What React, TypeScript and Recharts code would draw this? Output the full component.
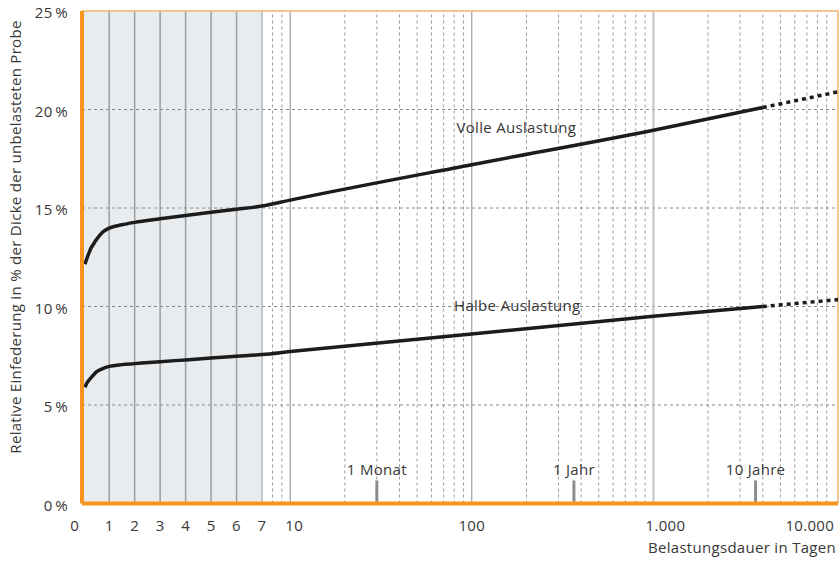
import React from 'react';
import { ComposedChart, Line, XAxis, YAxis, ReferenceArea, ReferenceLine, ReferenceDot } from 'recharts';

// Belastungsdauer (Tage) und relative Einfederung (%)
const solidDays = [0.05, 0.1, 0.2, 0.3, 0.4, 0.5, 0.75, 1, 1.5, 2, 3, 4, 5, 6, 7, 10, 100, 1000, 4000];
const volleSolid = [12.15, 12.35, 12.7, 13.0, 13.2, 13.4, 13.78, 13.98, 14.15, 14.27, 14.45, 14.62, 14.78, 14.94, 15.1, 15.4, 17.2, 18.95, 20.1];
const halbeSolid = [5.9, 6.05, 6.25, 6.4, 6.55, 6.68, 6.85, 6.96, 7.05, 7.1, 7.2, 7.29, 7.38, 7.47, 7.56, 7.71, 8.6, 9.5, 10.0];
const dashedDays = [4000, 10400];
const volleDashed = [20.1, 20.9];
const halbeDashed = [10.0, 10.35];

const tickDays = [0, 1, 2, 3, 4, 5, 6, 7, 10, 100, 1000, 10000];
const tickLabels = ['0', '1', '2', '3', '4', '5', '6', '7', '10', '100', '1.000', '10.000'];
const majorGridDays = [1, 2, 3, 4, 5, 6, 10, 100];
const minorGridDays = [8, 9, 20, 30, 40, 50, 60, 70, 80, 90, 200, 300, 400, 500, 600, 700, 800, 900, 2000, 3000, 4000, 5000, 6000, 7000, 8000, 9000];
const yTicks = [0, 5, 10, 15, 20, 25];
const yGrid = [5, 10, 15, 20];
const markers = [
  { label: '1 Monat', days: 30 },
  { label: '1 Jahr', days: 365 },
  { label: '10 Jahre', days: 3650 },
];

// linear up to 7 days, logarithmic after that
const K = 7.13;
const toT = (d: number) => (d <= 7 ? d : 7 + K * Math.log10(d / 7));
const T_MIN = -0.067;
const T_MAX = 29.61;

const ORANGE = '#f7941d';
const TEXT = '#383838';

const volleData = solidDays.map((d, i) => ({ t: toT(d), v: volleSolid[i] }));
const halbeData = solidDays.map((d, i) => ({ t: toT(d), v: halbeSolid[i] }));
const volleDash = dashedDays.map((d, i) => ({ t: toT(d), v: volleDashed[i] }));
const halbeDash = dashedDays.map((d, i) => ({ t: toT(d), v: halbeDashed[i] }));
const tickT = tickDays.map(toT);

const XTick = (props: any) => {
  const { x, payload } = props;
  const i = tickT.findIndex((v) => Math.abs(v - payload.value) < 1e-6);
  if (i < 0) return null;
  const day = tickDays[i];
  let anchor = 'middle';
  let dx = 0;
  if (day === 0) dx = -9;
  if (day === 10) dx = 4;
  if (day === 1000) dx = 12;
  if (day === 10000) {
    anchor = 'end';
    dx = -1;
  }
  return (
    <text x={x + dx} y={531} textAnchor={anchor} fill={TEXT} fontSize={15}>
      {tickLabels[i]}
    </text>
  );
};

const YTick = (props: any) => {
  const { y, payload } = props;
  return (
    <text x={68} y={y + 2} dy="0.355em" textAnchor="end" fill={TEXT} fontSize={15}>
      {`${payload.value}\u2009%`}
    </text>
  );
};

const YTitle = () => {
  const cx = 15;
  const cy = 237;
  return (
    <text x={cx} y={cy} transform={`rotate(-90, ${cx}, ${cy})`} textAnchor="middle" dominantBaseline="central" fill={TEXT} fontSize={15}>
      Relative Einfederung in % der Dicke der unbelasteten Probe
    </text>
  );
};

export default function App() {
  return (
    <div style={{ position: 'absolute', left: 0, top: 0, width: 839, height: 561, background: '#fff', fontFamily: "'Open Sans', sans-serif", letterSpacing: 0.3 }}>
      <ComposedChart width={839} height={561} margin={{ top: 11, right: 1, bottom: 6, left: 0 }}>
        <ReferenceArea x1={0} x2={7} fill="#e8ecef" fillOpacity={1} stroke="none" ifOverflow="visible" />
        {yGrid.map((v) => (
          <ReferenceLine key={`h-${v}`} y={v} stroke="#8a8a8a" strokeDasharray="3 3" ifOverflow="visible" />
        ))}
        {majorGridDays.map((d) => (
          <ReferenceLine key={`maj-${d}`} x={toT(d)} stroke={d <= 6 ? '#9c9fa2' : '#8a8a8a'} strokeWidth={d <= 6 ? 1.5 : 1} ifOverflow="visible" />
        ))}
        <ReferenceLine x={7} stroke="#b4b7ba" strokeWidth={1.5} ifOverflow="visible" />
        <ReferenceLine x={toT(1000)} stroke="#c2c2c2" strokeWidth={2} ifOverflow="visible" />
        {minorGridDays.map((d) => (
          <ReferenceLine key={`min-${d}`} x={toT(d)} stroke="#9a9a9a" strokeDasharray="3 3" ifOverflow="visible" />
        ))}
        {markers.map((m) => (
          <ReferenceLine
            key={m.label}
            segment={[{ x: toT(m.days), y: 0 }, { x: toT(m.days), y: 1.17 }]}
            stroke="#8c8c8c"
            strokeWidth={3}
            ifOverflow="visible"
            label={{ value: m.label, position: 'top', fill: TEXT, fontSize: 15, offset: 5 }}
          />
        ))}
        <ReferenceLine y={25} stroke="#f3b46e" strokeWidth={1.5} ifOverflow="visible" />
        <ReferenceLine x={T_MAX} stroke="#f3b46e" strokeWidth={1.5} ifOverflow="visible" />
        <Line data={volleData} dataKey="v" type="monotone" stroke="#1c1c1c" strokeWidth={3.5} dot={false} isAnimationActive={false} />
        <Line data={halbeData} dataKey="v" type="monotone" stroke="#1c1c1c" strokeWidth={3.5} dot={false} isAnimationActive={false} />
        <Line data={volleDash} dataKey="v" type="linear" stroke="#1c1c1c" strokeWidth={3.5} strokeDasharray="4 4" dot={false} isAnimationActive={false} />
        <Line data={halbeDash} dataKey="v" type="linear" stroke="#1c1c1c" strokeWidth={3.5} strokeDasharray="4 4" dot={false} isAnimationActive={false} />
        <ReferenceDot x={toT(176)} y={19.07} r={0} ifOverflow="visible" label={{ value: 'Volle Auslastung', position: 'center', fill: TEXT, fontSize: 15 }} />
        <ReferenceDot x={toT(178)} y={10.04} r={0} ifOverflow="visible" label={{ value: 'Halbe Auslastung', position: 'center', fill: TEXT, fontSize: 15 }} />
        <XAxis
          type="number"
          dataKey="t"
          domain={[T_MIN, T_MAX]}
          allowDataOverflow
          ticks={tickT}
          interval={0}
          tick={<XTick />}
          tickLine={false}
          axisLine={{ stroke: ORANGE, strokeWidth: 4 }}
          height={51.5}
          label={{ value: 'Belastungsdauer in Tagen', position: 'insideBottomRight', offset: 2, fill: TEXT, fontSize: 15 }}
        />
        <YAxis
          type="number"
          domain={[0, 25]}
          ticks={yTicks}
          interval={0}
          width={82}
          tick={<YTick />}
          tickLine={false}
          axisLine={{ stroke: ORANGE, strokeWidth: 4 }}
          label={{ content: YTitle }}
        />
      </ComposedChart>
    </div>
  );
}
